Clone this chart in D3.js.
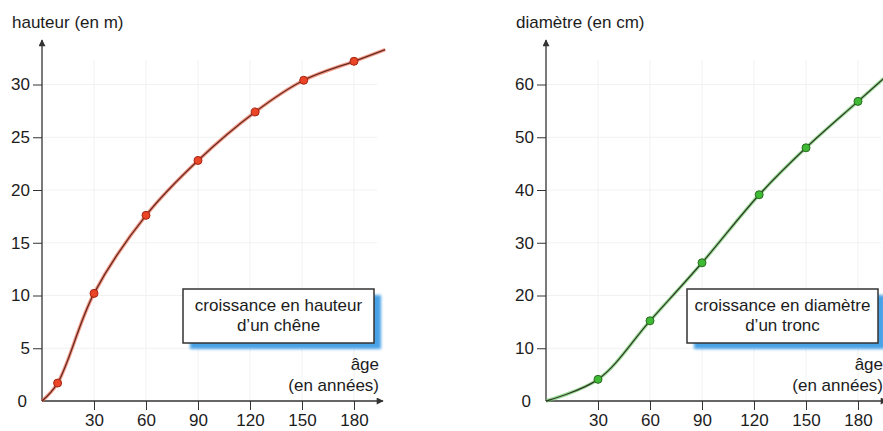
<!DOCTYPE html>
<html>
<head>
<meta charset="utf-8">
<script src="https://cdnjs.cloudflare.com/ajax/libs/d3/7.8.5/d3.min.js"></script>
<style>
  body { margin: 0; background: #fff; }
  text { font-family: "Liberation Sans", Arial, sans-serif; fill: #1c1c1c; }
</style>
</head>
<body>
<svg id="chart"></svg>
<script>
// ages (années) -> hauteur d'un chêne (m)
const hauteurAges = [0, 9, 30, 60, 90, 123, 151, 180, 198];
const hauteurValues = [0, 1.7, 10.2, 17.6, 22.8, 27.4, 30.4, 32.2, 33.3];
const hauteurMarked = [false, true, true, true, true, true, true, true, false];

// ages (années) -> diamètre d'un tronc (cm)
const diametreAges = [0, 30, 60, 90, 123, 150, 180, 196];
const diametreValues = [0, 4.1, 15.2, 26.2, 39.1, 48, 56.8, 61.5];
const diametreMarked = [false, true, true, true, true, true, true, false];

const ageTicks = [30, 60, 90, 120, 150, 180];
const hauteurTicks = [5, 10, 15, 20, 25, 30];
const diametreTicks = [10, 20, 30, 40, 50, 60];

const width = 883, height = 431;
const svg = d3.select('#chart').attr('width', width).attr('height', height);

const defs = svg.append('defs');
defs.append('filter').attr('id', 'blur')
    .append('feGaussianBlur').attr('stdDeviation', 1.4);
defs.append('marker').attr('id', 'arrow')
    .attr('viewBox', '0 0 10 10').attr('refX', 9).attr('refY', 5)
    .attr('markerWidth', 9).attr('markerHeight', 7)
    .attr('markerUnits', 'userSpaceOnUse')
    .attr('orient', 'auto')
    .append('path').attr('d', 'M0,0 L10,5 L0,10 Z').attr('fill', '#333');

function panel(opt) {
    let x = d3.scaleLinear().domain([0, 180]).range([opt.left, opt.left + 312]);
    let y = d3.scaleLinear().domain([0, opt.yMax]).range([401, 84.5]);
    let g = svg.append('g');

    // faint grid
    g.append('g').selectAll('line').data(ageTicks).enter().append('line')
        .attr('x1', d => x(d)).attr('x2', d => x(d))
        .attr('y1', 60).attr('y2', 401)
        .attr('stroke', '#f1f1f1');
    g.append('g').selectAll('line').data(opt.ticks).enter().append('line')
        .attr('x1', opt.left).attr('x2', opt.left + 335)
        .attr('y1', d => y(d)).attr('y2', d => y(d))
        .attr('stroke', '#f1f1f1');

    // axes
    let ya = g.append('g')
        .attr('transform', 'translate(' + opt.left + ',0)')
        .call(d3.axisLeft(y).tickValues(opt.ticks).tickSize(9).tickPadding(3));
    ya.select('.domain').remove();
    ya.selectAll('line').attr('stroke', '#333');
    ya.selectAll('text').style('font-size', '17px').attr('fill', '#1c1c1c');

    let xa = g.append('g')
        .attr('transform', 'translate(0,401)')
        .call(d3.axisBottom(x).tickValues(ageTicks).tickSize(9).tickPadding(4));
    xa.select('.domain').remove();
    xa.selectAll('line').attr('stroke', '#333');
    xa.selectAll('text').style('font-size', '17px').attr('fill', '#1c1c1c');

    g.append('line')
        .attr('x1', opt.left).attr('y1', 401).attr('x2', opt.left).attr('y2', 40)
        .attr('stroke', '#333').attr('stroke-width', 1.3).attr('marker-end', 'url(#arrow)');
    g.append('line')
        .attr('x1', opt.left).attr('y1', 401).attr('x2', opt.left + 341).attr('y2', 401)
        .attr('stroke', '#333').attr('stroke-width', 1.3).attr('marker-end', 'url(#arrow)');

    g.append('text').attr('x', opt.left - 15).attr('y', 401).attr('dy', '0.35em')
        .attr('text-anchor', 'end').style('font-size', '17px').text('0');

    g.append('text').attr('x', opt.left - 30).attr('y', 22).attr('dy', '0.35em')
        .style('font-size', '17px').text(opt.title);

    g.append('text').attr('x', opt.left + 337).attr('y', 364).attr('dy', '0.35em')
        .attr('text-anchor', 'end').style('font-size', '17px').text('âge');
    g.append('text').attr('x', opt.left + 337).attr('y', 385).attr('dy', '0.35em')
        .attr('text-anchor', 'end').style('font-size', '17px').text('(en années)');

    // legend box
    let bx = opt.left + 141, by = 289, bw = 191, bh = 54;
    g.append('rect').attr('x', bx + 7).attr('y', by + 6).attr('width', bw).attr('height', bh)
        .attr('fill', '#4aa2e6').attr('filter', 'url(#blur)');
    g.append('rect').attr('x', bx).attr('y', by).attr('width', bw).attr('height', bh)
        .attr('fill', '#fff').attr('stroke', '#333').attr('stroke-width', 1.5);
    g.append('text').attr('x', bx + bw / 2).attr('y', by + 16).attr('dy', '0.35em')
        .attr('text-anchor', 'middle').style('font-size', '17px').text(opt.box[0]);
    g.append('text').attr('x', bx + bw / 2).attr('y', by + 36).attr('dy', '0.35em')
        .attr('text-anchor', 'middle').style('font-size', '17px').text(opt.box[1]);

    // curve
    let pts = opt.ages.map((a, i) => [a, opt.values[i], opt.marked[i]]);
    let line = d3.line().x(d => x(d[0])).y(d => y(d[1])).curve(d3.curveCatmullRom.alpha(0.5));
    g.append('path').datum(pts).attr('d', line)
        .attr('fill', 'none').attr('stroke', opt.halo).attr('stroke-width', 3.5).attr('opacity', 0.6);
    g.append('path').datum(pts).attr('d', line)
        .attr('fill', 'none').attr('stroke', opt.core).attr('stroke-width', 1.3);

    g.selectAll('circle.pt').data(pts.filter(d => d[2])).enter().append('circle')
        .attr('class', 'pt')
        .attr('cx', d => x(d[0])).attr('cy', d => y(d[1])).attr('r', 4)
        .attr('fill', opt.dot).attr('stroke', opt.dotStroke).attr('stroke-width', 1);
}

panel({
    left: 42, yMax: 30, ticks: hauteurTicks, title: 'hauteur (en m)',
    ages: hauteurAges, values: hauteurValues, marked: hauteurMarked,
    box: ['croissance en hauteur', 'd\u2019un chêne'],
    halo: '#ea5a3a', core: '#6a2a22', dot: '#ea4526', dotStroke: '#a52412'
});
panel({
    left: 546, yMax: 60, ticks: diametreTicks, title: 'diamètre (en cm)',
    ages: diametreAges, values: diametreValues, marked: diametreMarked,
    box: ['croissance en diamètre', 'd\u2019un tronc'],
    halo: '#62c85a', core: '#2e3d26', dot: '#3fba35', dotStroke: '#2a6a20'
});
</script>
</body>
</html>
